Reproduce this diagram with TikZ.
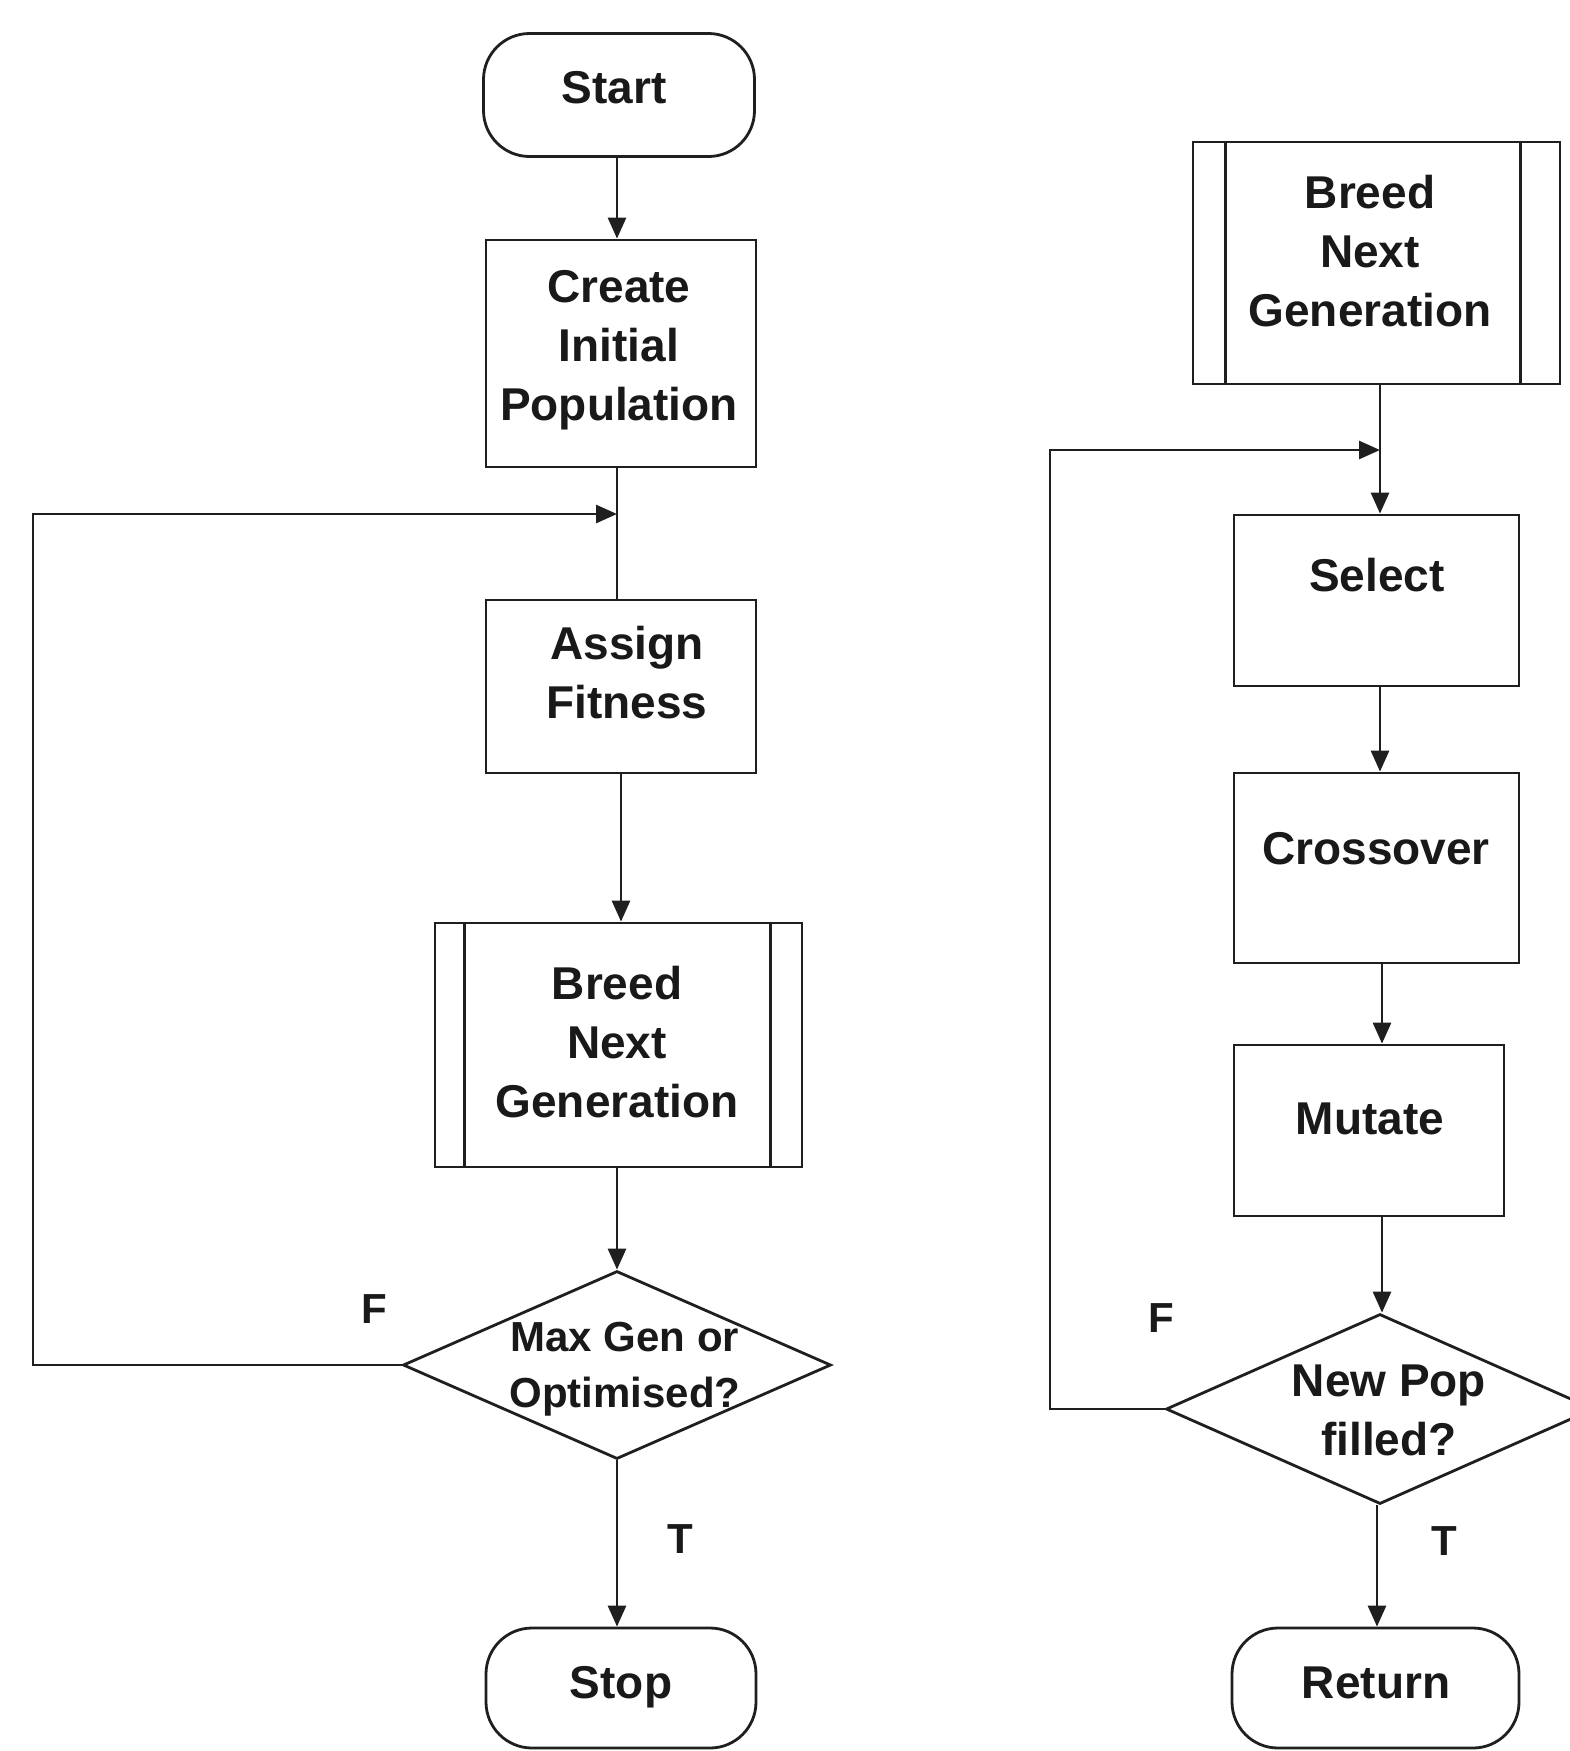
\documentclass[tikz,border=0pt]{standalone}
\usepackage{fontspec}
\setmainfont{Liberation Sans}
\usetikzlibrary{shapes.geometric,arrows.meta}
\begin{document}
\begin{tikzpicture}[x=1pt,y=-1pt,line width=2.8pt,draw=black!88,
  box/.style={draw,rectangle,inner sep=0pt},
  term/.style={draw,rectangle,rounded corners=46pt,inner sep=0pt},
  dec/.style={draw,diamond,inner sep=0pt},
  txt/.style={font=\fontsize{46}{59}\selectfont\bfseries,align=center,inner sep=0pt,text=black!90},
  dtxt/.style={font=\fontsize{42}{56}\selectfont\bfseries,align=center,inner sep=0pt,text=black!90},
  lbl/.style={font=\fontsize{42}{50}\selectfont\bfseries,inner sep=0pt,text=black!90},
  arr/.style={-{Triangle[length=21pt,width=18pt]}}]
\useasboundingbox (0,0) rectangle (1570,1751);
% ---------- left flowchart ----------
\node[term,minimum width=271pt,minimum height=123pt] (start) at (619,95) {};
\node[txt] (startT) at (614,88) {Start};
\node[box,minimum width=270pt,minimum height=227pt] (create) at (621,353.5) {};
\node[txt] (createT) at (619,350.5) {Create\\Initial\\Population};
\node[box,minimum width=270pt,minimum height=173pt] (assign) at (621,686.5) {};
\node[txt] (assignT) at (627,673) {Assign\\Fitness};
\node[box,minimum width=367pt,minimum height=244pt] (breedL) at (618.5,1045) {};
\draw ([xshift=31pt]breedL.north west) -- ([xshift=31pt]breedL.south west);
\draw ([xshift=-33pt]breedL.north east) -- ([xshift=-33pt]breedL.south east);
\node[txt] (breedLT) at (617,1042) {Breed\\Next\\Generation};
\node[dec,minimum width=428pt,minimum height=188pt] (dia1) at (617,1365) {};
\node[dtxt] (dia1T) at (625,1369) {Max Gen or\\Optimised?};
\node[term,minimum width=270pt,minimum height=120pt] (stop) at (621,1688) {};
\node[txt] (stopT) at (621,1687.5) {Stop};
\node[lbl] (F1) at (374,1309) {F};
\node[lbl] (T1) at (680,1539) {T};
\coordinate (j1) at (617,514);
\coordinate (c1) at (33,514);
\coordinate (c2) at (33,1365);
% connectors
\draw[arr] (start.south -| j1) -- (create.north -| j1);
\draw (create.south -| j1) -- (assign.north -| j1);
\draw[arr] (dia1.west) -- (c2) -- (c1) -- (j1);
\draw[arr] (assign.south) -- (breedL.north -| assign.south);
\draw[arr] (breedL.south -| j1) -- (dia1.north);
\draw[arr] (dia1.south) -- (stop.north -| dia1.south);
% ---------- right flowchart ----------
\node[box,minimum width=367pt,minimum height=242pt] (breedR) at (1376.5,263) {};
\draw ([xshift=34pt]breedR.north west) -- ([xshift=34pt]breedR.south west);
\draw ([xshift=-41pt]breedR.north east) -- ([xshift=-41pt]breedR.south east);
\node[txt] (breedRT) at (1370,251) {Breed\\Next\\Generation};
\node[box,minimum width=285pt,minimum height=171pt] (sel) at (1376.5,600.5) {};
\node[txt] (selT) at (1377,575) {Select};
\node[box,minimum width=285pt,minimum height=190pt] (cross) at (1376.5,868) {};
\node[txt] (crossT) at (1376,849) {Crossover};
\node[box,minimum width=270pt,minimum height=171pt] (mut) at (1369,1130.5) {};
\node[txt] (mutT) at (1370,1119) {Mutate};
\node[dec,minimum width=428pt,minimum height=190pt] (dia2) at (1380,1409) {};
\node[txt] (dia2T) at (1389,1410) {New Pop\\filled?};
\node[term,minimum width=287pt,minimum height=120pt] (ret) at (1375.5,1688) {};
\node[txt] (retT) at (1376,1683) {Return};
\node[lbl] (F2) at (1161,1318) {F};
\node[lbl] (T2) at (1444,1541) {T};
\coordinate (j2) at (1380,450);
\coordinate (d1) at (1050,450);
\coordinate (d2) at (1050,1409);
\draw (breedR.south -| j2) -- (j2);
\draw[arr] (j2) -- (sel.north -| j2);
\draw[arr] (dia2.west) -- (d2) -- (d1) -- (j2);
\draw[arr] (sel.south -| j2) -- (cross.north -| j2);
\draw[arr] (cross.south -| 1382,0) -- (mut.north -| 1382,0);
\draw[arr] (mut.south -| 1382,0) -- (dia2.north -| 1382,0);
\draw[arr] (dia2.south -| 1377,0) -- (ret.north -| 1377,0);
\end{tikzpicture}
\end{document}
